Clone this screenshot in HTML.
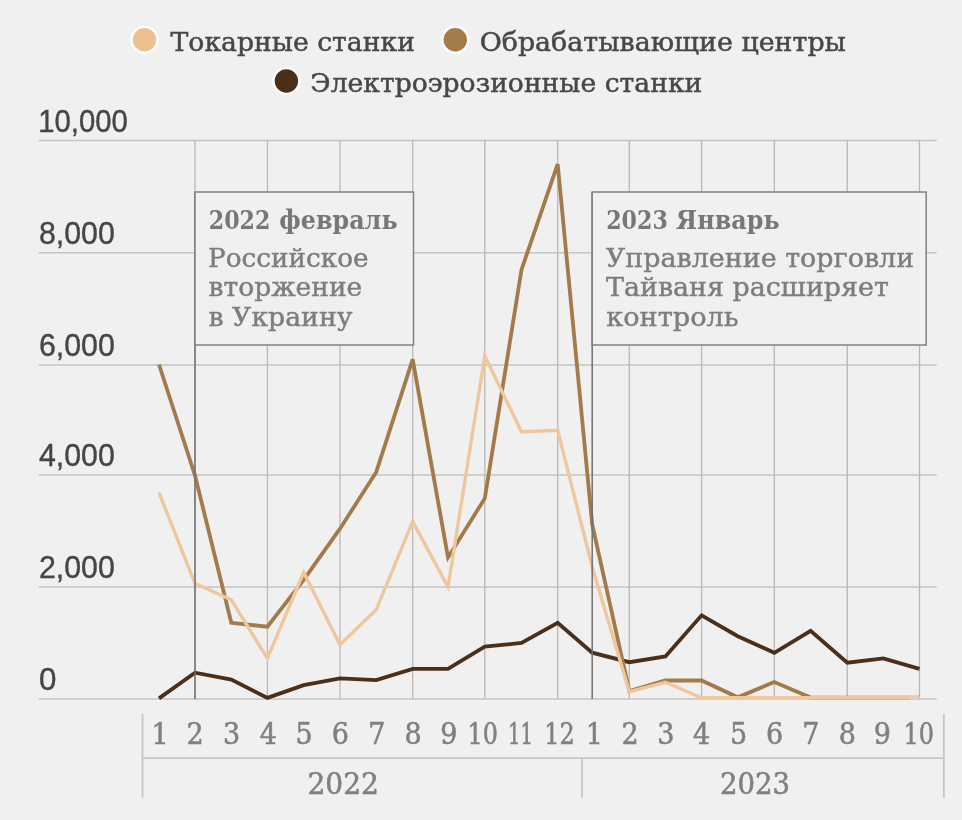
<!DOCTYPE html>
<html lang="ru"><head><meta charset="utf-8"><title>Chart</title>
<style>
html,body{margin:0;padding:0;background:#f0f0f0;}
body{width:962px;height:820px;overflow:hidden;}
svg{display:block;}
text{white-space:pre;}
.leg{font-family:'DejaVu Serif','Liberation Serif',serif;font-size:26.2px;fill:#474747;stroke:#474747;stroke-width:.5px;}
.yl{font-family:'Liberation Sans','DejaVu Sans',sans-serif;font-size:31.3px;fill:#464646;stroke:#464646;stroke-width:.4px;}
.ml{font-family:'DejaVu Serif Condensed','DejaVu Serif','Liberation Serif',serif;font-size:30px;fill:#808080;stroke:#808080;stroke-width:.55px;text-anchor:middle;}
.bt{font-family:'DejaVu Serif Condensed','DejaVu Serif','Liberation Serif',serif;font-size:25.8px;font-weight:700;fill:#777;}
.bb{font-family:'DejaVu Serif','Liberation Serif',serif;font-size:26.4px;fill:#7d7d7d;stroke:#7d7d7d;stroke-width:.45px;}
</style></head><body>
<svg width="962" height="820" viewBox="0 0 962 820">
<rect width="962" height="820" fill="#f0f0f0"/>
<g stroke="#c4c4c4" stroke-width="1.5" fill="none">
<line x1="38.5" x2="936.7" y1="140.6" y2="140.6"/>
<line x1="38.5" x2="936.7" y1="252.8" y2="252.8"/>
<line x1="38.5" x2="936.7" y1="364.9" y2="364.9"/>
<line x1="38.5" x2="936.7" y1="475.1" y2="475.1"/>
<line x1="38.5" x2="936.7" y1="587.0" y2="587.0"/>
<line x1="38.5" x2="936.7" y1="699.1" y2="699.1"/>
</g>
<g stroke="#b8b8b8" stroke-width="1.3" fill="none">
<line x1="195.0" x2="195.0" y1="140.6" y2="699.1"/>
<line x1="267.4" x2="267.4" y1="140.6" y2="699.1"/>
<line x1="340.0" x2="340.0" y1="140.6" y2="699.1"/>
<line x1="412.7" x2="412.7" y1="140.6" y2="699.1"/>
<line x1="484.8" x2="484.8" y1="140.6" y2="699.1"/>
<line x1="557.7" x2="557.7" y1="140.6" y2="699.1"/>
<line x1="629.3" x2="629.3" y1="140.6" y2="699.1"/>
<line x1="701.6" x2="701.6" y1="140.6" y2="699.1"/>
<line x1="774.3" x2="774.3" y1="140.6" y2="699.1"/>
<line x1="847.3" x2="847.3" y1="140.6" y2="699.1"/>
<line x1="919.5" x2="919.5" y1="140.6" y2="699.1"/>
</g>
<text class="yl" x="38.2" y="131.8" textLength="89.6" lengthAdjust="spacingAndGlyphs">10,000</text>
<text class="yl" x="39.0" y="244.0" textLength="75.8" lengthAdjust="spacingAndGlyphs">8,000</text>
<text class="yl" x="39.0" y="356.1" textLength="75.8" lengthAdjust="spacingAndGlyphs">6,000</text>
<text class="yl" x="39.0" y="466.3" textLength="75.8" lengthAdjust="spacingAndGlyphs">4,000</text>
<text class="yl" x="39.0" y="578.2" textLength="75.8" lengthAdjust="spacingAndGlyphs">2,000</text>
<text class="yl" x="39.0" y="690.3" textLength="17.4" lengthAdjust="spacingAndGlyphs">0</text>
<path d="M159.0,698.4 L195.0,672.7 L231.3,679.6 L267.4,697.9 L303.7,685.1 L340.0,678.4 L376.2,680.1 L412.7,668.9 L448.0,668.9 L484.8,646.7 L521.5,643.0 L557.7,622.8 L592.2,652.7 L629.3,662.2 L665.4,656.4 L701.6,615.3 L737.8,636.2 L774.3,652.8 L810.6,630.9 L847.3,662.7 L883.3,658.4 L919.5,668.9" fill="none" stroke="#4a2f1a" stroke-width="3.8" stroke-linejoin="miter" stroke-linecap="butt"/>
<path d="M159.0,364.5 L195.0,475.5 L231.3,622.8 L267.4,626.7 L303.7,579.8 L340.0,528.7 L376.2,472.2 L412.7,359.4 L448.0,557.4 L484.8,498.4 L521.5,269.7 L557.7,164.2 L592.2,524.5 L629.3,691.0 L665.4,680.5 L701.6,680.5 L737.8,697.3 L774.3,682.0 L810.6,697.5 L847.3,697.7 L883.3,697.7 L919.5,697.7" fill="none" stroke="#a37b4b" stroke-width="3.8" stroke-linejoin="miter" stroke-linecap="butt"/>
<path d="M159.0,492.7 L195.0,583.6 L231.3,599.8 L267.4,658.4 L303.7,572.4 L340.0,644.7 L376.2,609.8 L412.7,521.4 L448.0,586.9 L484.8,356.0 L521.5,431.8 L557.7,430.3 L592.2,567.0 L629.3,691.7 L665.4,682.3 L701.6,697.7 L737.8,697.7 L774.3,697.7 L810.6,697.7 L847.3,697.7 L883.3,697.7 L919.5,697.7" fill="none" stroke="#efc79c" stroke-width="3.4" stroke-linejoin="miter" stroke-linecap="butt"/>
<line x1="909.3" x2="919.6" y1="698" y2="698" stroke="#e2cfbf" stroke-width="3.4"/>
<g stroke="#707070" stroke-width="1.5" fill="none">
<line x1="195" x2="195" y1="192" y2="699.1"/>
<line x1="592.2" x2="592.2" y1="192" y2="699.1"/>
</g>
<rect x="195" y="192" width="218.5" height="153" fill="#f0f0f0" stroke="#808080" stroke-width="1.5"/>
<rect x="592.2" y="192" width="334.0" height="153" fill="#f0f0f0" stroke="#808080" stroke-width="1.5"/>
<text class="bt" x="208.8" y="229" textLength="61.6" lengthAdjust="spacingAndGlyphs">2022</text>
<text class="bt" x="279.3" y="229" textLength="118.3" lengthAdjust="spacingAndGlyphs">февраль</text>
<text class="bb" x="208" y="266.7" textLength="160.6" lengthAdjust="spacingAndGlyphs">Российское</text>
<text class="bb" x="208.6" y="296.2" textLength="153.7" lengthAdjust="spacingAndGlyphs">вторжение</text>
<text class="bb" x="208.6" y="325.5" textLength="143.8" lengthAdjust="spacingAndGlyphs">в Украину</text>
<text class="bt" x="606.2" y="229" textLength="61.6" lengthAdjust="spacingAndGlyphs">2023</text>
<text class="bt" x="676.1" y="229" textLength="103.5" lengthAdjust="spacingAndGlyphs">Январь</text>
<text class="bb" x="605.8" y="266.7" textLength="308.4" lengthAdjust="spacingAndGlyphs">Управление торговли</text>
<text class="bb" x="606" y="296.2" textLength="282.8" lengthAdjust="spacingAndGlyphs">Тайваня расширяет</text>
<text class="bb" x="606.2" y="325.5" textLength="132.4" lengthAdjust="spacingAndGlyphs">контроль</text>
<circle cx="144.5" cy="39.8" r="13" fill="#edc092" stroke="#fdfdfd" stroke-width="2.6"/>
<text class="leg" x="170.6" y="51.2" textLength="244.3" lengthAdjust="spacingAndGlyphs">Токарные станки</text>
<circle cx="455.3" cy="39.8" r="13" fill="#a37b4b" stroke="#fdfdfd" stroke-width="2.6"/>
<text class="leg" x="479.7" y="51.2" textLength="366.3" lengthAdjust="spacingAndGlyphs">Обрабатывающие центры</text>
<circle cx="286.4" cy="81" r="13" fill="#4a2f1a" stroke="#fdfdfd" stroke-width="2.6"/>
<text class="leg" x="310.3" y="92.4" textLength="392" lengthAdjust="spacingAndGlyphs">Электроэрозионные станки</text>
<g stroke="#c6c6c6" stroke-width="1.8" fill="none">
<line x1="142.5" x2="142.5" y1="713.7" y2="797.8"/>
<line x1="142.5" x2="943.8" y1="758.2" y2="758.2"/>
<line x1="581.9" x2="581.9" y1="758.3" y2="797.8"/>
<line x1="943.8" x2="943.8" y1="714" y2="797.8"/>
</g>
<text class="ml" x="160.2" y="743.5">1</text>
<text class="ml" x="195.2" y="743.5">2</text>
<text class="ml" x="231.6" y="743.5">3</text>
<text class="ml" x="268.4" y="743.5">4</text>
<text class="ml" x="304.2" y="743.5">5</text>
<text class="ml" x="340.3" y="743.5">6</text>
<text class="ml" x="376.8" y="743.5">7</text>
<text class="ml" x="413.0" y="743.5">8</text>
<text class="ml" x="448.8" y="743.5">9</text>
<text class="ml" x="482.8" y="743.5" textLength="30.5" lengthAdjust="spacingAndGlyphs">10</text>
<text class="ml" x="520.6" y="743.5" textLength="25" lengthAdjust="spacingAndGlyphs">11</text>
<text class="ml" x="559.4" y="743.5" textLength="30.5" lengthAdjust="spacingAndGlyphs">12</text>
<text class="ml" x="594.3" y="743.5">1</text>
<text class="ml" x="630.2" y="743.5">2</text>
<text class="ml" x="665.8" y="743.5">3</text>
<text class="ml" x="701.6" y="743.5">4</text>
<text class="ml" x="738.6" y="743.5">5</text>
<text class="ml" x="774.6" y="743.5">6</text>
<text class="ml" x="810.9" y="743.5">7</text>
<text class="ml" x="847.3" y="743.5">8</text>
<text class="ml" x="882.3" y="743.5">9</text>
<text class="ml" x="918.8" y="743.5" textLength="30.5" lengthAdjust="spacingAndGlyphs">10</text>
<text class="ml" x="343.2" y="794.3" textLength="71.5" lengthAdjust="spacingAndGlyphs">2022</text>
<text class="ml" x="755" y="794.3" textLength="70" lengthAdjust="spacingAndGlyphs">2023</text>
</svg></body></html>
